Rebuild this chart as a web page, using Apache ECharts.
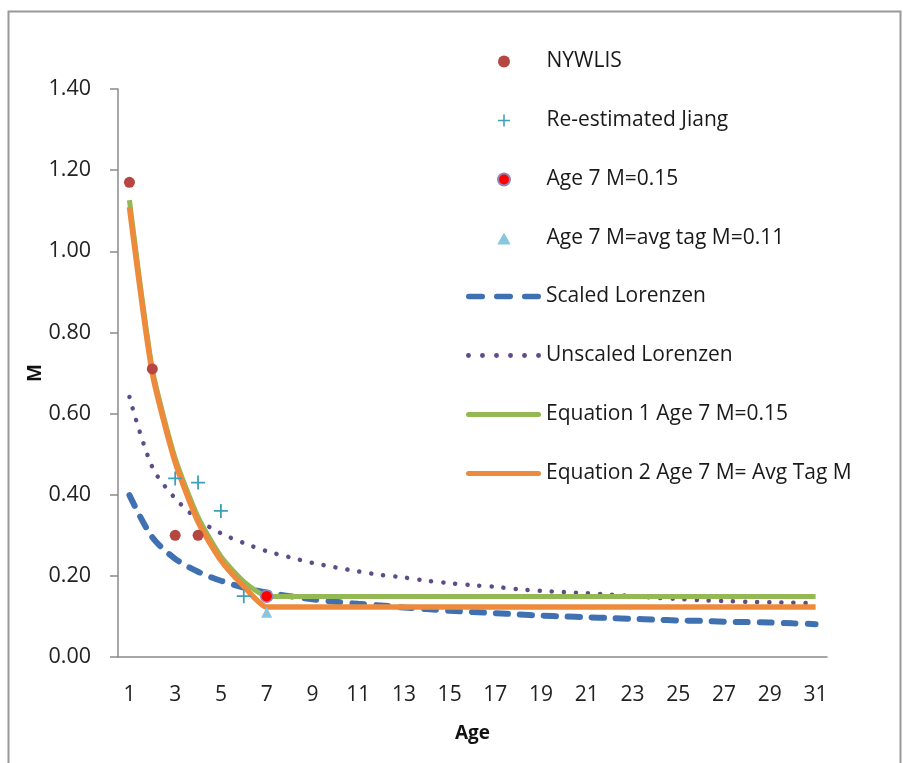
<!DOCTYPE html>
<html>
<head>
<meta charset="utf-8">
<script src="https://cdn.jsdelivr.net/npm/echarts@6/dist/echarts.min.js"></script>
<style>
  html, body { margin: 0; padding: 0; background: #fff; }
  #chart { width: 903px; height: 763px; }
</style>
</head>
<body>
<div id="chart"></div>
<script>
var ages = [1, 2, 3, 4, 5, 6, 7, 8, 9, 10, 11, 12, 13, 14, 15, 16, 17, 18, 19, 20, 21, 22, 23, 24, 25, 26, 27, 28, 29, 30, 31];

var nywlisAges = [1, 2, 3, 4];
var nywlisM = [1.17, 0.71, 0.30, 0.30];
var jiangAges = [3, 4, 5, 6];
var jiangM = [0.44, 0.43, 0.36, 0.15];
var age7Ages = [7];
var age7M = [0.15];
var tagAges = [7];
var tagM = [0.11];

var scaledLorenzen = [0.399, 0.295, 0.242, 0.210, 0.188, 0.171, 0.159, 0.150, 0.142, 0.136, 0.131, 0.127, 0.122, 0.118, 0.114, 0.111,
    0.108, 0.105, 0.102, 0.100, 0.098, 0.096, 0.094, 0.092, 0.090, 0.089, 0.087, 0.086, 0.085, 0.083, 0.081];
var unscaledLorenzen = [0.641, 0.468, 0.391, 0.339, 0.305, 0.281, 0.261, 0.246, 0.232, 0.221, 0.211, 0.202, 0.196, 0.188, 0.182, 0.177,
    0.173, 0.167, 0.163, 0.160, 0.157, 0.154, 0.150, 0.146, 0.143, 0.140, 0.138, 0.136, 0.135, 0.134, 0.132];
var equation1 = [1.126, 0.71, 0.49, 0.345, 0.248, 0.186, 0.150, 0.149, 0.149, 0.149, 0.149, 0.149, 0.149, 0.149, 0.149, 0.149,
    0.149, 0.149, 0.149, 0.149, 0.149, 0.149, 0.149, 0.149, 0.149, 0.149, 0.149, 0.149, 0.149, 0.149, 0.149];
var equation2 = [1.109, 0.70, 0.48, 0.333, 0.238, 0.174, 0.123, 0.123, 0.123, 0.123, 0.123, 0.123, 0.123, 0.123, 0.123, 0.123,
    0.123, 0.123, 0.123, 0.123, 0.123, 0.123, 0.123, 0.123, 0.123, 0.123, 0.123, 0.123, 0.123, 0.123, 0.123];

function pairs(xs, ys) {
    return xs.map(function (a, i) { return [String(a), ys[i]]; });
}

// legend icons drawn as paths so they keep their proportions
var plusIcon = 'path://M5.5,0h1.6v5.5h5.5v1.6h-5.5v5.5h-1.6v-5.5h-5.5v-1.6h5.5z';
var triIcon = 'path://M5,0L10,9L0,9Z';
var solidIcon = 'path://M2.5,0h70a2.5,2.5 0 0 1 0,5h-70a2.5,2.5 0 0 1 0,-5z';
var dashIcon = 'path://';
for (var d = 0; d < 3; d++) {
    dashIcon += 'M' + (2.5 + d * 25) + ',0h12a2.5,2.5 0 0 1 0,5h-12a2.5,2.5 0 0 1 0,-5z';
}
var dotIcon = 'path://';
for (var k = 0; k < 6; k++) {
    dotIcon += 'M' + (k * 12.8) + ',2.25a2.25,2.25 0 1 0 4.5,0a2.25,2.25 0 1 0 -4.5,0z';
}

var font = 'Open Sans';
var axisGray = '#8a8a8a';
var legendText = { fontFamily: font, fontSize: 21, color: '#1a1a1a', lineHeight: 20 };

var chart = echarts.init(document.getElementById('chart'));
var option = {
    backgroundColor: '#fff',
    animation: false,
    graphic: [{
        type: 'rect',
        shape: { x: 8.5, y: 11.5, width: 892, height: 800 },
        style: { fill: 'none', stroke: '#999', lineWidth: 2 },
        silent: true
    }],
    grid: { left: 118, right: 76, top: 89, bottom: 106 },
    legend: [{
        orient: 'vertical',
        left: 492, top: 46,
        itemWidth: 75, itemHeight: 12, itemGap: 38,
        textStyle: legendText,
        data: [
            { name: 'NYWLIS', icon: 'circle' },
            { name: 'Re-estimated Jiang', icon: plusIcon },
            { name: 'Age 7 M=0.15', icon: 'circle' },
            { name: 'Age 7 M=avg tag M=0.11', icon: triIcon }
        ]
    }, {
        orient: 'vertical',
        left: 461, top: 281,
        itemWidth: 75, itemHeight: 14, itemGap: 38,
        textStyle: legendText,
        data: [
            { name: 'Scaled Lorenzen', icon: dashIcon },
            { name: 'Unscaled Lorenzen', icon: dotIcon },
            { name: 'Equation 1 Age 7 M=0.15', icon: solidIcon },
            { name: 'Equation 2 Age 7 M= Avg Tag M', icon: solidIcon }
        ]
    }],
    xAxis: {
        type: 'category',
        data: ages.map(String),
        boundaryGap: true,
        name: 'Age',
        nameLocation: 'middle',
        nameGap: 67,
        nameTextStyle: { fontFamily: font, fontSize: 19, fontWeight: 'bold', color: '#111' },
        axisLine: { lineStyle: { color: axisGray, width: 1.5 } },
        axisTick: { interval: 0, length: 9, lineStyle: { color: axisGray, width: 1.5 } },
        axisLabel: { interval: 1, margin: 28, fontFamily: font, fontSize: 21, color: '#222' },
        splitLine: { show: false }
    },
    yAxis: {
        type: 'value',
        min: 0, max: 1.4, interval: 0.2,
        name: 'M',
        nameLocation: 'middle',
        nameGap: 73,
        nameRotate: 90,
        nameMoveOverlap: false,
        nameTextStyle: { fontFamily: font, fontSize: 19, fontWeight: 'bold', color: '#111' },
        axisLine: { show: true, lineStyle: { color: axisGray, width: 1.5 } },
        axisTick: { show: true, length: 8, lineStyle: { color: axisGray, width: 1.5 } },
        axisLabel: {
            margin: 27, fontFamily: font, fontSize: 21.5, color: '#222',
            formatter: function (v) { return v.toFixed(2); }
        },
        splitLine: { show: false }
    },
    series: [{
        name: 'Scaled Lorenzen',
        type: 'line',
        data: scaledLorenzen,
        symbol: 'none',
        smooth: 0.3,
        z: 2,
        lineStyle: { color: '#3f70b2', width: 6, type: [12, 12], cap: 'round' },
        itemStyle: { color: '#3f70b2' }
    }, {
        name: 'Unscaled Lorenzen',
        type: 'line',
        data: unscaledLorenzen,
        symbol: 'none',
        smooth: 0.3,
        z: 2,
        lineStyle: { color: '#5e4b8a', width: 4.5, type: [0.1, 12], cap: 'round' },
        itemStyle: { color: '#5e4b8a' }
    }, {
        name: 'Equation 1 Age 7 M=0.15',
        type: 'line',
        data: equation1,
        symbol: 'none',
        smooth: 0.2,
        z: 3,
        lineStyle: { color: '#94b853', width: 5 },
        itemStyle: { color: '#94b853' }
    }, {
        name: 'Equation 2 Age 7 M= Avg Tag M',
        type: 'line',
        data: equation2,
        symbol: 'none',
        smooth: 0.2,
        z: 4,
        lineStyle: { color: '#ee8a3c', width: 5.5 },
        itemStyle: { color: '#ee8a3c' }
    }, {
        name: 'NYWLIS',
        type: 'scatter',
        data: pairs(nywlisAges, nywlisM),
        symbol: 'circle',
        symbolSize: 11,
        z: 5,
        itemStyle: { color: '#b64642', opacity: 1 }
    }, {
        name: 'Re-estimated Jiang',
        type: 'scatter',
        data: pairs(jiangAges, jiangM),
        symbol: plusIcon,
        symbolSize: 14,
        z: 5,
        itemStyle: { color: '#3d9fba', opacity: 1 }
    }, {
        name: 'Age 7 M=0.15',
        type: 'scatter',
        data: pairs(age7Ages, age7M),
        symbol: 'circle',
        symbolSize: 12,
        z: 6,
        itemStyle: { color: '#ff0000', borderColor: '#9486b6', borderWidth: 1.5, opacity: 1 }
    }, {
        name: 'Age 7 M=avg tag M=0.11',
        type: 'scatter',
        data: pairs(tagAges, tagM),
        symbol: triIcon,
        symbolSize: 11,
        z: 6,
        itemStyle: { color: '#88c7db', opacity: 1 }
    }]
};
chart.setOption(option);
</script>
</body>
</html>
